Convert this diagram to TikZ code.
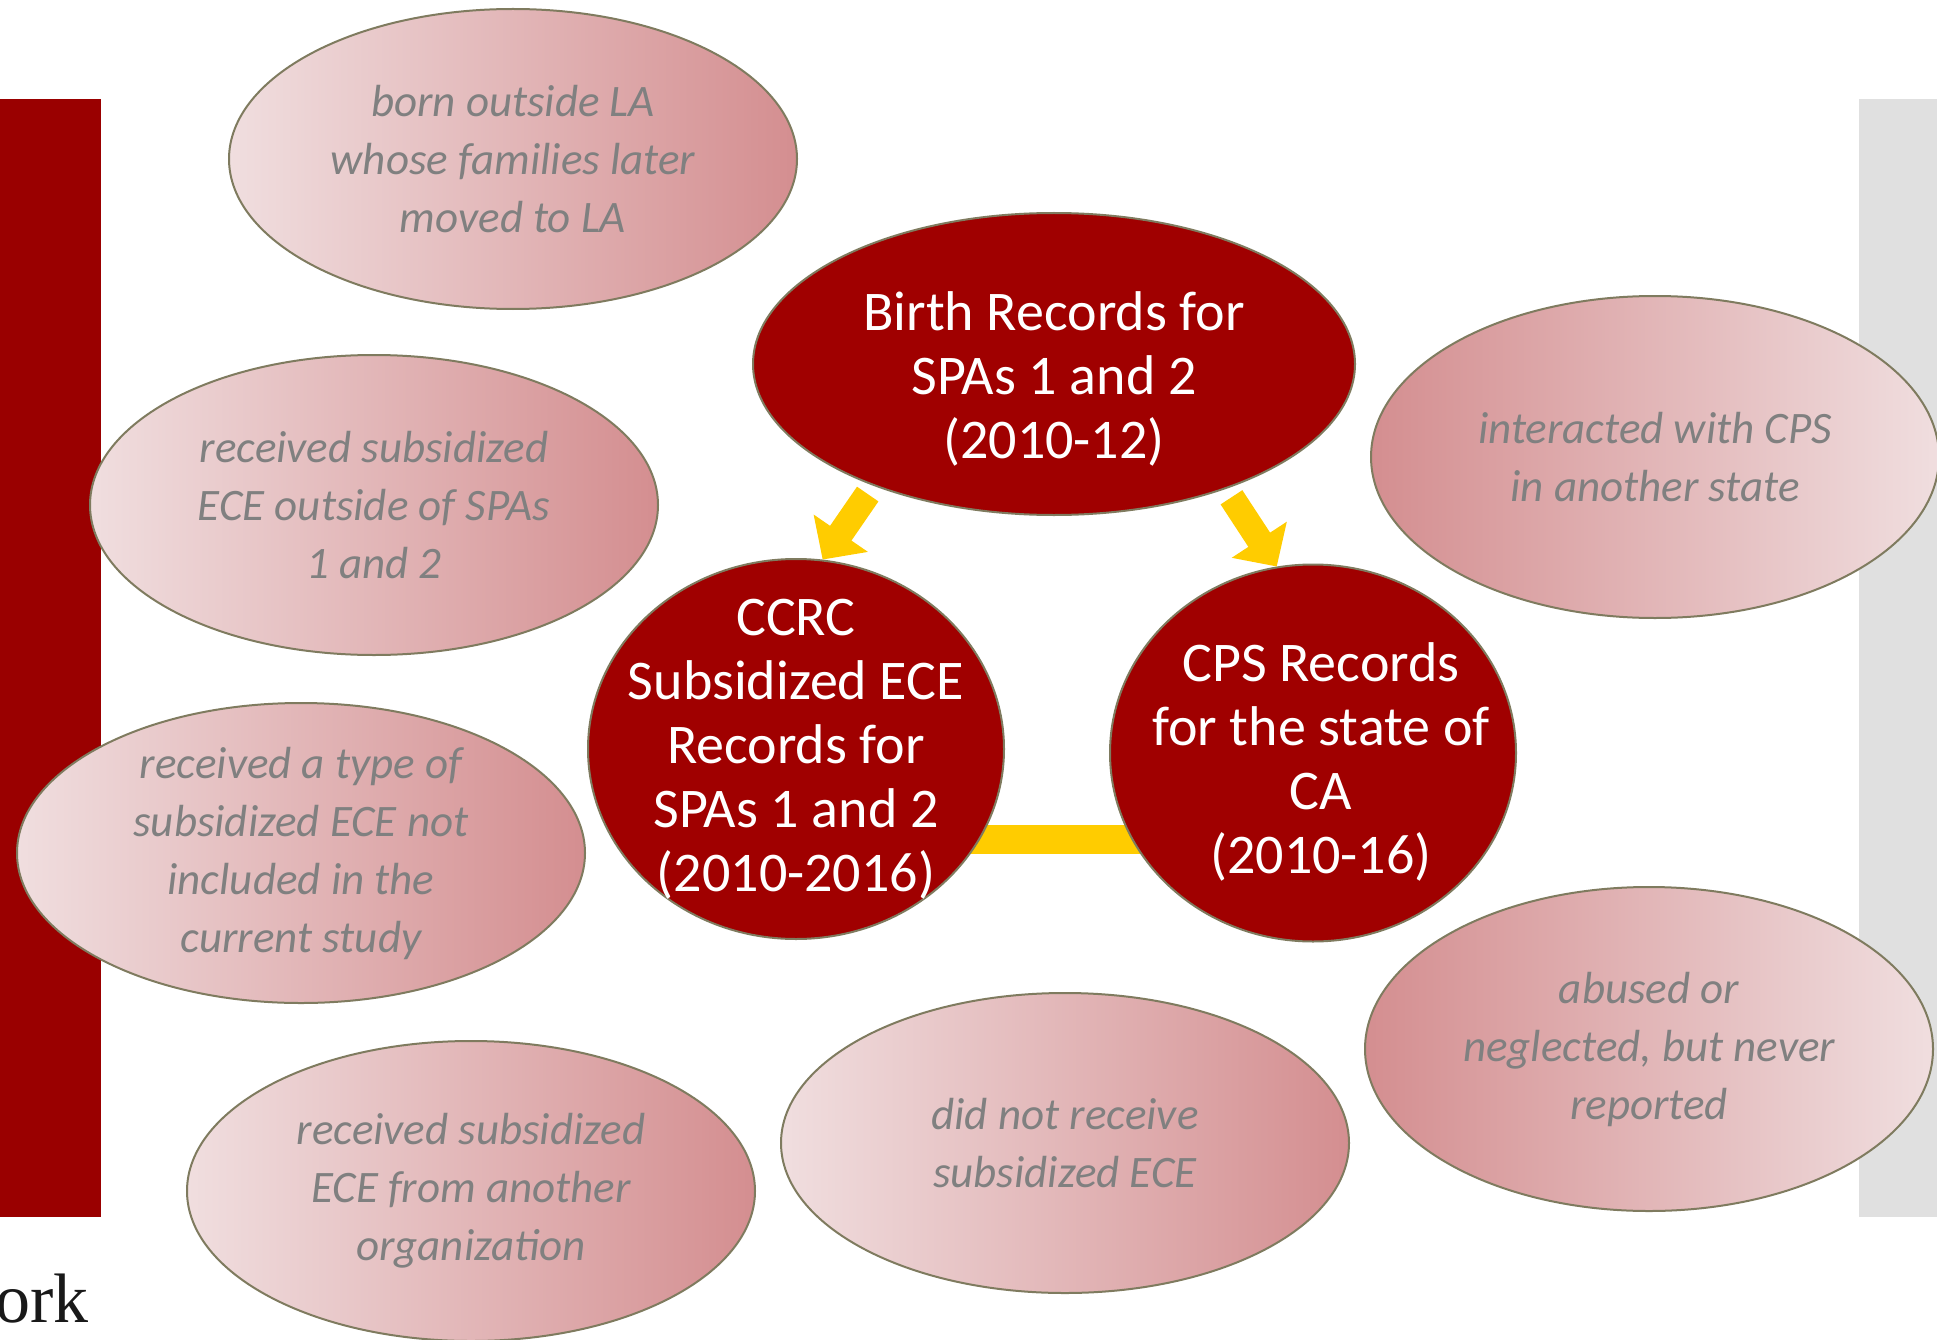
\documentclass[tikz,border=0pt]{standalone}
\usepackage{fontspec}
\setmainfont{Carlito}
\newfontfamily\orkfont{Liberation Serif}
\usepackage{xcolor}
\usetikzlibrary{arrows.meta,positioning,shapes.geometric,backgrounds}

\definecolor{recred}{HTML}{A00000}
\definecolor{sidered}{HTML}{9A0000}
\definecolor{sidegray}{HTML}{E0E0E0}
\definecolor{pinklight}{HTML}{F0DEDF}
\definecolor{pinkdark}{HTML}{D48E90}
\definecolor{rimcol}{HTML}{7F7B5F}
\definecolor{gold}{HTML}{FFCC00}
\definecolor{notegray}{HTML}{808080}

\begin{document}
\begin{tikzpicture}[x=1pt,y=-1pt,
  gap/.style={ellipse,draw=rimcol,line width=2pt,left color=pinklight,right color=pinkdark,minimum width=568pt,minimum height=300pt,inner sep=-20pt,align=center,text=notegray,font=\fontsize{45}{58}\selectfont\itshape},
  gapr/.style={gap,left color=pinkdark,right color=pinklight},
  rec/.style={ellipse,draw=rimcol,line width=2pt,fill=recred,inner sep=-60pt,align=center,text=white,font=\fontsize{56}{64}\selectfont},
  arrow/.style={draw=gold,line width=26pt,-{Triangle[length=32pt,width=64pt]}},
  link/.style={draw=gold,line width=29pt}
]
\useasboundingbox (0,0) rectangle (1937,1340);
\fill[sidered] (0,99) rectangle (101,1217);
\fill[sidegray] (1859,99) rectangle (1937,1217);
\node[anchor=base west,font=\orkfont\fontsize{70}{74}\selectfont,text=black!90] (ork) at (-8,1322) {ork};

% records not linked
\node[gap] (bornout) at (513,159) {born outside LA\\whose families later\\moved to LA};
\node[gap] (elsewhere) at (374,505) {received subsidized\\ECE outside of SPAs\\1 and 2};
\node[gap] (othertype) at (301,853) {received a type of\\subsidized ECE not\\included in the\\current study};
\node[gap] (otherorg) at (471,1191) {received subsidized\\ECE from another\\organization};
\node[gap] (noece) at (1065,1143) {did not receive\\subsidized ECE};
\node[gapr,minimum height=322pt] (otherstate) at (1655,457) {interacted with CPS\\in another state};
\node[gapr,minimum height=324pt] (unreported) at (1649,1049) {abused or\\neglected, but never\\reported};

% linked records
\node[rec,minimum width=602pt,minimum height=302pt] (birth) at (1054,364) {};
\node[rec,minimum width=416pt,minimum height=380pt] (ccrc) at (796,749) {CCRC\\Subsidized ECE\\Records for\\SPAs 1 and 2\\(2010-2016)};
\node[rec,minimum width=406pt,minimum height=377pt] (cps) at (1313,753) {};
\node[rec,draw=none,fill=none] (birthtext) at ([yshift=-15pt]birth.center) {Birth Records for\\SPAs 1 and 2\\(2010-12)};
\node[rec,draw=none,fill=none] (cpstext) at ([xshift=8pt,yshift=-9pt]cps.center) {CPS Records\\for the state of\\CA\\(2010-16)};

\draw[arrow,shorten <=10pt] (birth.214) -- (ccrc.82);
\draw[arrow,shorten <=10pt] (birth.324) -- (cps.101);
\begin{scope}[on background layer]
\draw[link] ([yshift=-90pt]ccrc.center) -- ([yshift=-90pt]ccrc.center -| cps.center);
\end{scope}
\end{tikzpicture}
\end{document}
